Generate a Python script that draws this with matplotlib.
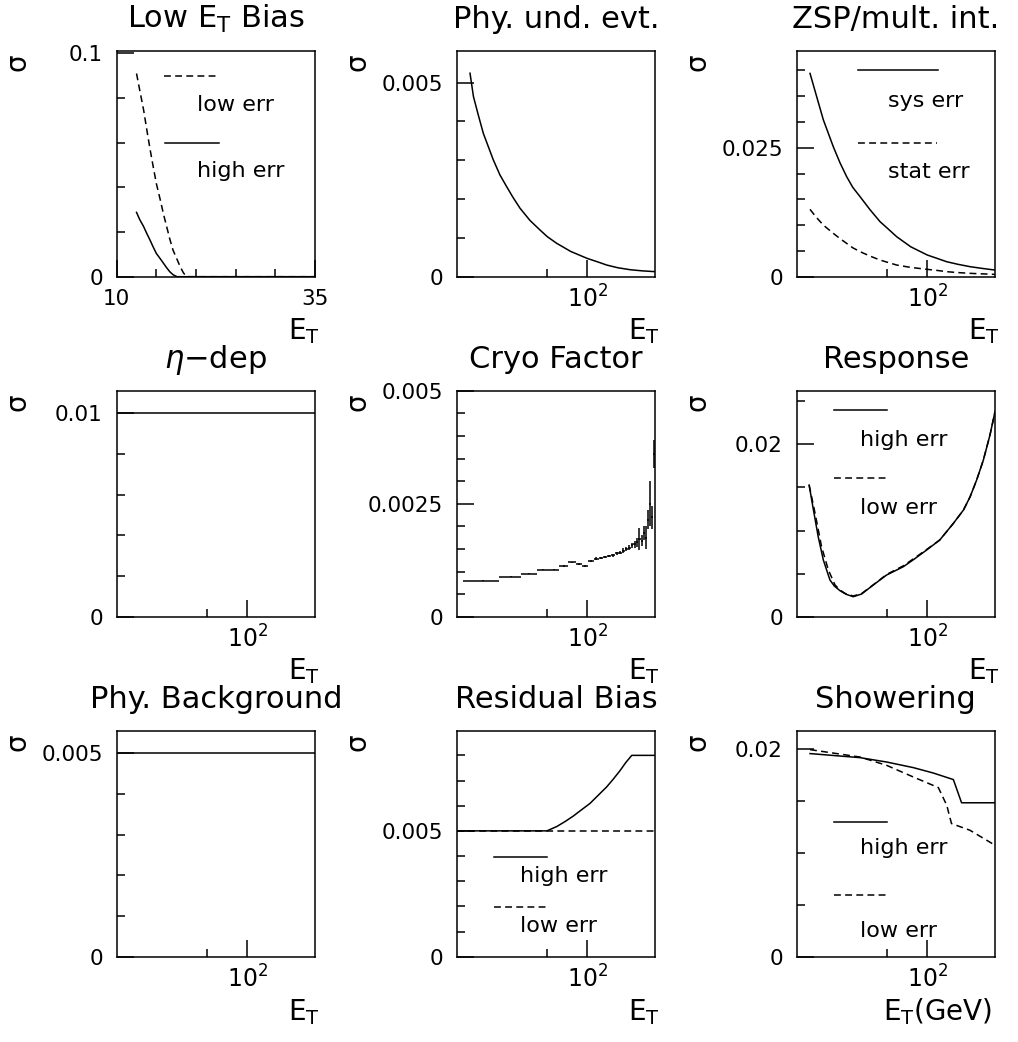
import matplotlib
matplotlib.use("Agg")
import matplotlib.pyplot as plt
from matplotlib.ticker import FixedLocator, FixedFormatter, NullFormatter

plt.rcParams['font.family'] = ['DejaVu Sans']
plt.rcParams['mathtext.fontset'] = 'dejavusans'

# ---------------- data ----------------
# Panel 1: Low E_T Bias (linear E_T axis)
lowbias_low_x = [12.5, 12.9, 13.4, 13.8, 14.2, 14.6, 15.0, 15.5, 15.9, 16.3, 16.7, 17.1,
                 17.6, 18.0, 18.4, 18.8, 35.0]
lowbias_low_y = [0.091, 0.0836, 0.0745, 0.0657, 0.0572, 0.0493, 0.0417, 0.0343, 0.0280,
                 0.0224, 0.0168, 0.0119, 0.0078, 0.0045, 0.0018, 0.0, 0.0]
lowbias_high_x = [12.5, 12.9, 13.4, 13.8, 14.2, 14.6, 15.0, 15.5, 15.9, 16.3, 16.7, 17.1,
                  17.6, 35.0]
lowbias_high_y = [0.0288, 0.0256, 0.0224, 0.0193, 0.0164, 0.0133, 0.0104, 0.0080, 0.0060,
                  0.0040, 0.0022, 0.0009, 0.0, 0.0]

# Panel 2: Phy. und. evt.
und_x = [13.1, 13.9, 15.1, 16.5, 19.6, 22.0, 24.7, 27.5, 31.2, 37.0, 44.1, 50.0,
         58.8, 75.0, 100, 120, 140, 170, 210, 260, 323]
und_y = [0.00524, 0.00464, 0.00417, 0.00369, 0.00301, 0.00262, 0.00232, 0.00205,
         0.00176, 0.00145, 0.00120, 0.00103, 0.00086, 0.00065, 0.00047, 0.00038,
         0.00030, 0.00023, 0.00018, 0.00015, 0.00013]

# Panel 3: ZSP / mult. int.
zsp_sys_x = [13.1, 14.7, 16.5, 19.6, 22.0, 24.7, 27.5, 31.2, 37.0, 44.1, 50.0, 58.8,
             75.0, 100, 120, 140, 170, 210, 260, 323]
zsp_sys_y = [0.0394, 0.0349, 0.0304, 0.0252, 0.0221, 0.0194, 0.0173, 0.0155, 0.0130,
             0.01066, 0.0094, 0.00775, 0.0058, 0.0042, 0.0035, 0.0029, 0.0024,
             0.00194, 0.0016, 0.00129]
zsp_stat_x = [13.1, 14.5, 16.5, 19.6, 22.0, 24.7, 27.5, 31.2, 37.0, 44.1, 50.0, 58.8,
              75.0, 100, 120, 140, 170, 210, 260, 323]
zsp_stat_y = [0.01305, 0.0116, 0.0100, 0.0084, 0.0074, 0.00646, 0.0056, 0.00485,
              0.0040, 0.00323, 0.0028, 0.00226, 0.0018, 0.00142, 0.0012, 0.00097,
              0.0008, 0.00065, 0.00055, 0.00045]

# Panel 4: eta-dep
eta_x = [10.4, 323]
eta_y = [0.01, 0.01]

# Panel 5: Cryo Factor (histogram, 10 GeV bins)
cryo_edges = [11.5, 21.5, 31.5, 41.5, 51.5, 61.5, 71.5, 81.5, 91.5, 101.5, 111.5,
              121.5, 131.5, 141.5, 151.5, 161.5, 171.5, 181.5, 191.5, 201.5, 211.5,
              221.5, 231.5, 241.5, 251.5, 261.5, 271.5, 281.5, 291.5, 301.5, 311.5, 321.5]
cryo_val = [0.00080, 0.000885, 0.00095, 0.00104, 0.00104, 0.00113, 0.00120, 0.00117,
            0.00113, 0.00124, 0.00128, 0.00130, 0.00132, 0.00134, 0.00136, 0.00140,
            0.00142, 0.00146, 0.00150, 0.00153, 0.00158, 0.00160, 0.00165, 0.00172,
            0.00168, 0.00185, 0.00175, 0.00215, 0.00250, 0.00220, 0.00360]
cryo_err = [0.00001, 0.00001, 0.00001, 0.00001, 0.00001, 0.00002, 0.00002, 0.00002,
            0.00002, 0.00002, 0.00003, 0.00003, 0.00003, 0.00003, 0.00003, 0.00004,
            0.00004, 0.00005, 0.00005, 0.00006, 0.00006, 0.00008, 0.00010, 0.00025,
            0.00012, 0.00015, 0.00025, 0.00022, 0.00050, 0.00025, 0.00030]

# Panel 6: Response
resp_high_x = [12.9, 13.9, 15.1, 16.5, 18.5, 20.0, 22.0, 24.5, 27.7, 32.0, 39.2, 49.4,
               65.9, 80.0, 98.8, 124, 157, 187, 210, 235, 264, 296, 323]
resp_high_y = [0.01528, 0.01238, 0.00928, 0.00658, 0.00426, 0.00355, 0.00302, 0.00260,
               0.00232, 0.00263, 0.00368, 0.00484, 0.0058, 0.0067, 0.00774, 0.0089,
               0.01083, 0.01238, 0.01393, 0.01586, 0.01818, 0.02108, 0.02379]
resp_low_x = [12.9, 14.3, 16.0, 18.0, 20.2, 22.0, 24.0, 27.7, 32.0, 39.2, 49.4, 65.9,
              80.0, 98.8, 124, 157, 187, 210, 235, 264, 296, 323]
resp_low_y = [0.01528, 0.0120, 0.00812, 0.00542, 0.00368, 0.0031, 0.00271, 0.0024,
              0.00268, 0.0037, 0.0049, 0.0059, 0.0068, 0.0078, 0.0089, 0.01083,
              0.01238, 0.01393, 0.01586, 0.01818, 0.02108, 0.02379]

# Panel 7: Phy. Background
bkg_x = [10.4, 323]
bkg_y = [0.005, 0.005]

# Panel 8: Residual Bias
res_high_x = [10.4, 49.6, 58.8, 68.0, 78.5, 90.0, 104.7, 120, 140, 157, 176, 195, 216, 323]
res_high_y = [0.005, 0.005, 0.00517, 0.00537, 0.00559, 0.00583, 0.00609, 0.0064,
              0.00675, 0.00706, 0.00739, 0.00772, 0.008, 0.008]
res_low_x = [10.4, 323]
res_low_y = [0.005, 0.005]

# Panel 9: Showering
show_high_x = [13.1, 31.1, 49.4, 78.4, 111, 157, 181, 323]
show_high_y = [0.01953, 0.01914, 0.01872, 0.01818, 0.01766, 0.01703, 0.0148, 0.0148]
show_low_x = [13.1, 31.1, 49.4, 78.4, 121, 140, 152, 209, 323]
show_low_y = [0.01991, 0.0192, 0.0184, 0.01728, 0.01626, 0.01456, 0.0128, 0.01216, 0.01072]

titles = ["Low E$_\\mathregular{T}$ Bias", "Phy. und. evt.", "ZSP/mult. int.",
          "$\\eta$\u2212dep", "Cryo Factor", "Response",
          "Phy. Background", "Residual Bias", "Showering"]

# ---------------- layout ----------------
W, H = 1018, 1042
fig = plt.figure(figsize=(W / 100, H / 100), dpi=100)
LW = 1.1
DASH = (0, (4.5, 2.8))
col_left = [116.7, 456.7, 796.7]
row_top = [50.7, 390.7, 730.7]
aw, ah = 198.3, 226.0


def make_ax(r, c):
    x0 = col_left[c]
    y0 = row_top[r]
    return fig.add_axes([x0 / W, 1 - (y0 + ah) / H, aw / W, ah / H])


def style(ax, ymax, ymaj, ylab, ymin, logx=True, xmaj=None, xlab=None, xmin_t=None, xlim=None):
    for s in ax.spines.values():
        s.set_linewidth(LW)
    ax.set_ylim(0, ymax)
    ax.yaxis.set_major_locator(FixedLocator(ymaj))
    ax.yaxis.set_major_formatter(FixedFormatter(ylab))
    ax.yaxis.set_minor_locator(FixedLocator(ymin))
    ax.yaxis.set_minor_formatter(NullFormatter())
    if logx:
        ax.set_xscale('log')
        ax.set_xlim(10.4, 323)
        ax.xaxis.set_major_locator(FixedLocator([100]))
        ax.xaxis.set_major_formatter(FixedFormatter(['$10^{2}$']))
        ax.xaxis.set_minor_locator(FixedLocator([50]))
        ax.xaxis.set_minor_formatter(NullFormatter())
    else:
        ax.set_xlim(*xlim)
        ax.xaxis.set_major_locator(FixedLocator(xmaj))
        ax.xaxis.set_major_formatter(FixedFormatter(xlab))
        ax.xaxis.set_minor_locator(FixedLocator(xmin_t))
        ax.xaxis.set_minor_formatter(NullFormatter())
    ax.tick_params(which='both', direction='in', width=LW, top=False, right=False,
                   labelsize=15.5)
    ax.tick_params(which='major', length=12)
    ax.tick_params(which='minor', length=6)
    ax.tick_params(axis='y', which='major', pad=10)
    ax.tick_params(axis='x', which='major', pad=6, labelsize=17 if logx else 15.5)


def decorate(ax, title, xlabel="E$_\\mathregular{T}$", xl_x=1.025):
    ax.text(0.5, 1 + 23 / ah, title, transform=ax.transAxes, ha='center', va='baseline',
            fontsize=22)
    ax.text(xl_x, -63 / ah, xlabel, transform=ax.transAxes, ha='right', va='baseline',
            fontsize=20)
    ax.text(-99 / aw, 1 - 11 / ah, "\u03c3", transform=ax.transAxes, ha='center',
            va='center', fontsize=20, rotation=90)


def legend_entry(ax, y_line, x0, x1, label, x_text, y_text, ls):
    ax.plot([x0, x1], [y_line, y_line], transform=ax.transAxes, color='black', lw=LW,
            linestyle=ls, clip_on=False)
    ax.text(x_text, y_text, label, transform=ax.transAxes, ha='left', va='baseline',
            fontsize=16)


# Panel 1
ax = make_ax(0, 0)
ax.plot(lowbias_low_x, lowbias_low_y, color='black', lw=LW, linestyle=DASH)
ax.plot(lowbias_high_x, lowbias_high_y, color='black', lw=LW)
style(ax, 0.1012, [0, 0.1], ['0', '0.1'], [0.02, 0.04, 0.06, 0.08], logx=False,
      xmaj=[10, 35], xlab=['10', '35'], xmin_t=[15, 20, 25, 30], xlim=(10, 35))
ax.tick_params(axis='x', which='major', pad=9)
legend_entry(ax, 0.888, 0.240, 0.516, 'low err', 0.403, 0.735, DASH)
legend_entry(ax, 0.590, 0.244, 0.516, 'high err', 0.403, 0.442, '-')
decorate(ax, titles[0])

# Panel 2
ax = make_ax(0, 1)
ax.plot(und_x, und_y, color='black', lw=LW)
style(ax, 0.00582, [0, 0.005], ['0', '0.005'], [0.001, 0.002, 0.003, 0.004])
decorate(ax, titles[1])

# Panel 3
ax = make_ax(0, 2)
ax.plot(zsp_sys_x, zsp_sys_y, color='black', lw=LW)
ax.plot(zsp_stat_x, zsp_stat_y, color='black', lw=LW, linestyle=DASH)
style(ax, 0.0438, [0, 0.025], ['0', '0.025'],
      [0.005, 0.01, 0.015, 0.02, 0.03, 0.035, 0.04])
legend_entry(ax, 0.914, 0.311, 0.714, 'sys err', 0.462, 0.749, '-')
legend_entry(ax, 0.593, 0.311, 0.706, 'stat err', 0.462, 0.435, DASH)
decorate(ax, titles[2])

# Panel 4
ax = make_ax(1, 0)
ax.plot(eta_x, eta_y, color='black', lw=LW)
style(ax, 0.0111, [0, 0.01], ['0', '0.01'], [0.002, 0.004, 0.006, 0.008])
decorate(ax, titles[3])

# Panel 5
ax = make_ax(1, 1)
lo = cryo_edges[:-1]
hi = cryo_edges[1:]
centers = [(a + b) / 2 for a, b in zip(lo, hi)]
ax.hlines(cryo_val, lo, hi, color='black', lw=LW)
ax.vlines(centers, [v - e for v, e in zip(cryo_val, cryo_err)],
          [v + e for v, e in zip(cryo_val, cryo_err)], color='black', lw=LW)
style(ax, 0.005, [0, 0.0025, 0.005], ['0', '0.0025', '0.005'],
      [0.0005, 0.001, 0.0015, 0.002, 0.003, 0.0035, 0.004, 0.0045])
decorate(ax, titles[4])

# Panel 6
ax = make_ax(1, 2)
ax.plot(resp_high_x, resp_high_y, color='black', lw=LW)
ax.plot(resp_low_x, resp_low_y, color='black', lw=LW, linestyle=DASH)
style(ax, 0.02623, [0, 0.02], ['0', '0.02'], [0.005, 0.01, 0.015, 0.025])
legend_entry(ax, 0.914, 0.188, 0.457, 'high err', 0.319, 0.755, '-')
legend_entry(ax, 0.612, 0.188, 0.457, 'low err', 0.319, 0.454, DASH)
decorate(ax, titles[5])

# Panel 7
ax = make_ax(2, 0)
ax.plot(bkg_x, bkg_y, color='black', lw=LW)
style(ax, 0.00556, [0, 0.005], ['0', '0.005'], [0.001, 0.002, 0.003, 0.004])
decorate(ax, titles[6])

# Panel 8
ax = make_ax(2, 1)
ax.plot(res_high_x, res_high_y, color='black', lw=LW)
ax.plot(res_low_x, res_low_y, color='black', lw=LW, linestyle=DASH)
style(ax, 0.00898, [0, 0.005], ['0', '0.005'],
      [0.001, 0.002, 0.003, 0.004, 0.006, 0.007, 0.008])
legend_entry(ax, 0.442, 0.188, 0.454, 'high err', 0.319, 0.332, '-')
legend_entry(ax, 0.218, 0.188, 0.454, 'low err', 0.319, 0.108, DASH)
decorate(ax, titles[7])

# Panel 9
ax = make_ax(2, 2)
ax.plot(show_high_x, show_high_y, color='black', lw=LW)
ax.plot(show_low_x, show_low_y, color='black', lw=LW, linestyle=DASH)
style(ax, 0.02173, [0, 0.02], ['0', '0.02'], [0.005, 0.01, 0.015])
legend_entry(ax, 0.594, 0.188, 0.457, 'high err', 0.319, 0.454, '-')
legend_entry(ax, 0.273, 0.188, 0.457, 'low err', 0.319, 0.088, DASH)
decorate(ax, titles[8], xlabel="E$_\\mathregular{T}$(GeV)", xl_x=0.985)

fig.savefig("out.png", dpi=100)
